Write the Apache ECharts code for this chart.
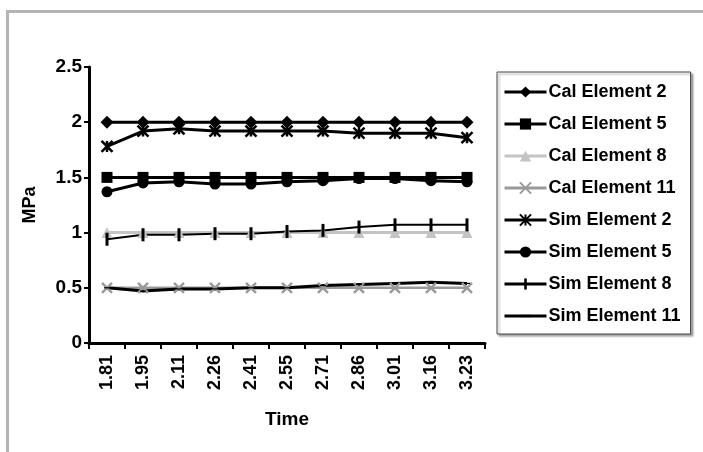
<!DOCTYPE html>
<html>
<head>
<meta charset="UTF-8">
<title>MPa vs Time</title>
<script src="https://cdn.jsdelivr.net/npm/echarts@6/dist/echarts.min.js"></script>
<style>
  html, body { margin: 0; padding: 0; background: #fff; }
  #frame { position: absolute; left: 6px; top: 10px; width: 710px; height: 460px;
           border-top: 3px solid #b4b4b4; border-left: 3px solid #b4b4b4; }
  #main { position: absolute; left: 0; top: 0; width: 703px; height: 452px; }
</style>
</head>
<body>
<div id="frame"></div>
<div id="main"></div>
<script type="text/javascript">
// time categories
var times = ["1.81","1.95","2.11","2.26","2.41","2.55","2.71","2.86","3.01","3.16","3.23"];

// stress values (MPa)
var calE2  = [2, 2, 2, 2, 2, 2, 2, 2, 2, 2, 2];
var calE5  = [1.5, 1.5, 1.5, 1.5, 1.5, 1.5, 1.5, 1.5, 1.5, 1.5, 1.5];
var calE8  = [1, 1, 1, 1, 1, 1, 1, 1, 1, 1, 1];
var calE11 = [0.5, 0.5, 0.5, 0.5, 0.5, 0.5, 0.5, 0.5, 0.5, 0.5, 0.5];
var simE2  = [1.78, 1.92, 1.94, 1.92, 1.92, 1.92, 1.92, 1.9, 1.9, 1.9, 1.86];
var simE5  = [1.37, 1.45, 1.46, 1.44, 1.44, 1.46, 1.47, 1.49, 1.49, 1.47, 1.46];
var simE8  = [0.94, 0.98, 0.98, 0.99, 0.99, 1.01, 1.02, 1.05, 1.07, 1.07, 1.07];
var simE11 = [0.5, 0.47, 0.49, 0.49, 0.5, 0.5, 0.52, 0.53, 0.54, 0.55, 0.54];

var yTicks = [0, 0.5, 1, 1.5, 2, 2.5];

var font = "Liberation Sans, Arial, sans-serif";

var myChart = echarts.init(document.getElementById('main'));

function mk(name, data, color, width, symbol, size, extra) {
    var s = {
        name: name,
        type: 'line',
        data: data,
        symbol: symbol,
        symbolSize: size,
        lineStyle: { color: color, width: width },
        itemStyle: { color: color },
        emphasis: { disabled: true },
        animation: false
    };
    if (extra) { for (var k in extra) s[k] = extra[k]; }
    return s;
}

var option = {
    backgroundColor: 'transparent',
    textStyle: { fontFamily: font },
    grid: { left: 89, right: 218, top: 67, bottom: 109 },
    legend: {
        orient: 'vertical',
        left: 497,
        top: 72,
        padding: [11, 10, 9, 6],
        itemWidth: 42,
        itemHeight: 14,
        itemGap: 14,
        borderColor: '#444',
        borderWidth: 1,
        shadowColor: 'rgba(0,0,0,0.35)',
        shadowOffsetX: 2,
        shadowOffsetY: 2,
        shadowBlur: 2,
        backgroundColor: '#fff',
        lineStyle: { width: 3 },
        textStyle: { fontFamily: font, fontWeight: 'bold', fontSize: 18, color: '#000', padding: [0, 0, 0, -3] },
        data: ['Cal Element 2','Cal Element 5','Cal Element 8','Cal Element 11',
               'Sim Element 2','Sim Element 5','Sim Element 8','Sim Element 11']
    },
    xAxis: {
        type: 'category',
        data: times,
        boundaryGap: true,
        name: 'Time',
        nameLocation: 'middle',
        nameGap: 67,
        nameTextStyle: { fontFamily: font, fontWeight: 'bold', fontSize: 19, color: '#000' },
        axisLine: { lineStyle: { color: '#000', width: 3 } },
        axisTick: { show: true, length: 6, lineStyle: { color: '#000', width: 2 } },
        axisLabel: { rotate: 90, fontFamily: font, fontWeight: 'bold', fontSize: 18, color: '#000', margin: 12 },
        splitLine: { show: false }
    },
    yAxis: {
        type: 'value',
        min: 0,
        max: 2.5,
        interval: 0.5,
        name: 'MPa',
        nameLocation: 'middle',
        nameGap: 50,
        nameRotate: 90,
        nameTextStyle: { fontFamily: font, fontWeight: 'bold', fontSize: 18, color: '#000' },
        axisLine: { show: true, lineStyle: { color: '#000', width: 3 } },
        axisTick: { show: true, length: 5, lineStyle: { color: '#000', width: 2 } },
        axisLabel: {
            fontFamily: font, fontWeight: 'bold', fontSize: 19, color: '#000', margin: 7,
            formatter: function (v) { return yTicks.indexOf(v) >= 0 ? String(v) : ''; }
        },
        splitLine: { show: false }
    },
    series: [
        mk('Cal Element 2', calE2, '#000', 3, 'diamond', 13),
        mk('Cal Element 5', calE5, '#000', 3, 'rect', 11),
        mk('Cal Element 8', calE8, '#c4c4c4', 3, 'triangle', 11),
        mk('Cal Element 11', calE11, '#9a9a9a', 2.5, 'path://M0,0L10,10M10,0L0,10', 10,
           { itemStyle: { color: 'none', borderColor: '#9a9a9a', borderWidth: 2.5 } }),
        mk('Sim Element 2', simE2, '#000', 3, 'path://M0,0L10,10M10,0L0,10M5,0L5,10', 11,
           { itemStyle: { color: 'none', borderColor: '#000', borderWidth: 2.5 } }),
        mk('Sim Element 5', simE5, '#000', 3, 'circle', 11),
        mk('Sim Element 8', simE8, '#000', 2, 'path://M0,0M13,13M5,0L8,0L8,13L5,13Z', 13),
        mk('Sim Element 11', simE11, '#000', 3, 'path://M0,0M10,10M0,4L10,4L10,6L0,6Z', 6)
    ]
};

myChart.setOption(option);
</script>
</body>
</html>
